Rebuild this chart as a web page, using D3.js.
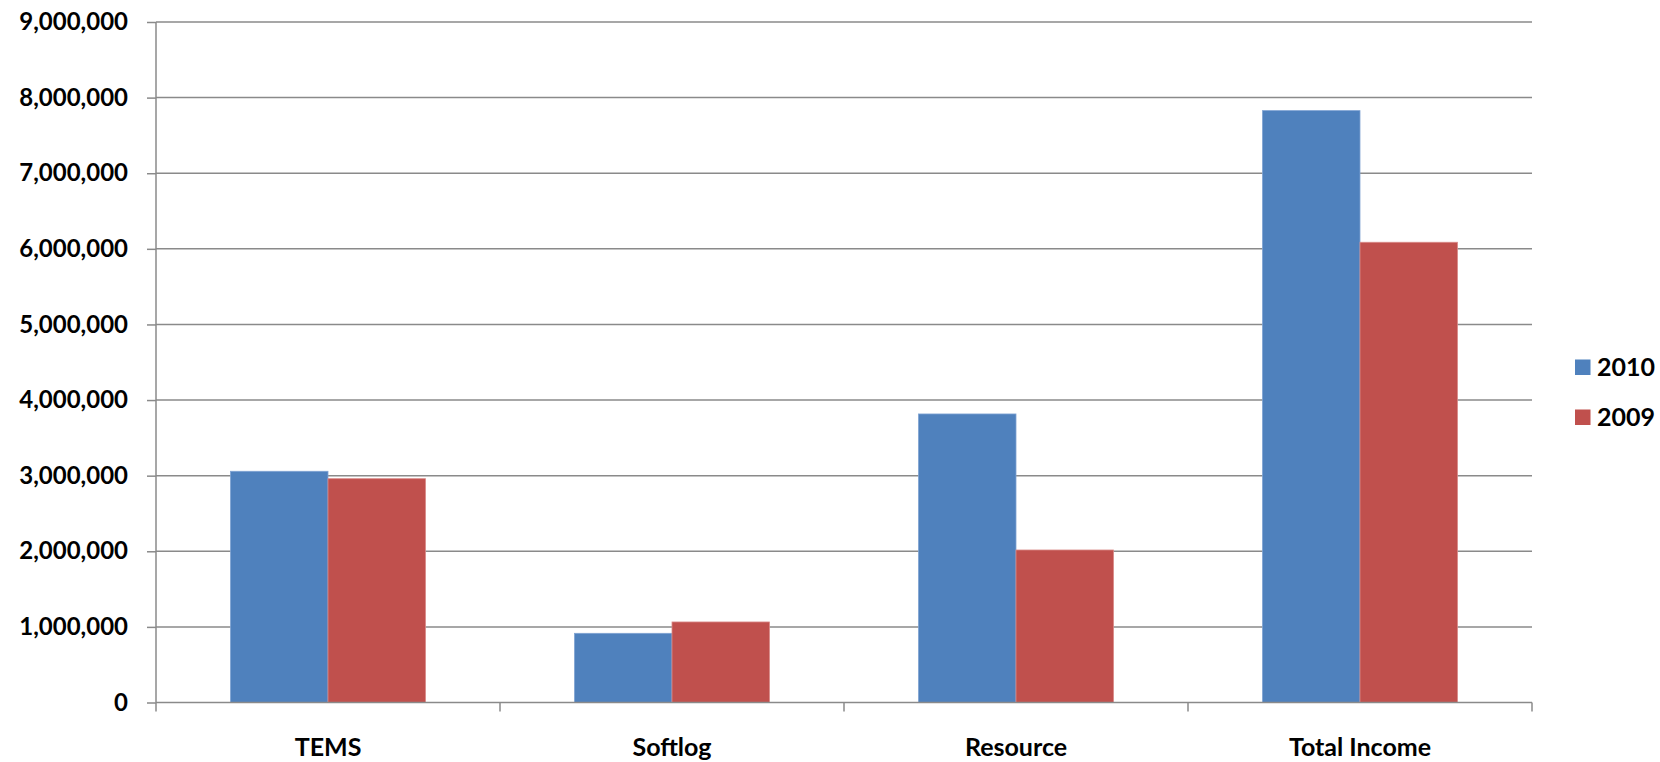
<!DOCTYPE html>
<html>
<head>
<meta charset="utf-8">
<script src="https://cdn.jsdelivr.net/npm/d3@7"></script>
<style>
  html, body { margin: 0; padding: 0; background: #fff; }
  svg { display: block; font-family: Lato, "Open Sans", sans-serif; font-weight: bold; }
</style>
</head>
<body>
<svg id="chart" width="1660" height="762"></svg>
<script>
const categories = ["TEMS", "Softlog", "Resource", "Total Income"];
const seriesNames = ["2010", "2009"];
const values2010 = [3058000, 915000, 3816000, 7828000];
const values2009 = [2960000, 1065000, 2017000, 6087000];
const yTicks = [0, 1000000, 2000000, 3000000, 4000000, 5000000, 6000000, 7000000, 8000000, 9000000];
const colors = ["#4F81BD", "#C0504D"];

const seriesValues = [values2010, values2009];
const svg = d3.select("#chart");
const plotLeft = 156, plotRight = 1532, plotTop = 22, plotBottom = 702.5;
const fontFam = "Lato, 'Open Sans', sans-serif";

const y = d3.scaleLinear().domain([0, 9000000]).range([plotBottom, plotTop]);
const x0 = d3.scaleBand().domain(categories).range([plotLeft, plotRight]).padding(0);
const x1 = d3.scaleBand().domain(seriesNames).range([0, x0.bandwidth()]).paddingInner(0).paddingOuter(0.764);

// gridlines
svg.append("g")
  .selectAll("line").data(yTicks.filter(d => d > 0)).join("line")
  .attr("x1", plotLeft).attr("x2", plotRight)
  .attr("y1", d => y(d)).attr("y2", d => y(d))
  .attr("stroke", "#8a8a8a").attr("stroke-width", 1.5);

// bars
const groups = svg.append("g").selectAll("g").data(categories).join("g")
  .attr("transform", d => `translate(${x0(d)},0)`);
groups.selectAll("rect").data((c, i) => seriesNames.map((s, j) => ({ s, v: seriesValues[j][i], j })))
  .join("rect")
  .attr("x", d => x1(d.s))
  .attr("y", d => y(d.v))
  .attr("width", x1.bandwidth())
  .attr("height", d => y(0) - y(d.v))
  .attr("fill", d => colors[d.j])
  .attr("stroke", d => d.j === 0 ? "#7fa3d3" : "#d98a88")
  .attr("stroke-width", 0.8);

// y axis
const yAxis = d3.axisLeft(y).tickValues(yTicks).tickFormat(d3.format(",")).tickSize(9).tickPadding(19);
const gy = svg.append("g").attr("transform", `translate(${plotLeft},0)`).call(yAxis);
gy.select(".domain").attr("stroke", "#8a8a8a").attr("stroke-width", 1.5).attr("d", `M0,${plotTop}V${plotBottom}`);
gy.selectAll(".tick line").attr("stroke", "#8a8a8a").attr("stroke-width", 1.5);
gy.selectAll(".tick text").attr("fill", "#000").attr("font-size", 24).attr("font-weight", "bold")
  .attr("font-family", fontFam);

// x axis
const xAxis = d3.axisBottom(x0).tickSize(0).tickPadding(36);
const gx = svg.append("g").attr("transform", `translate(0,${plotBottom})`).call(xAxis);
gx.select(".domain").attr("stroke", "#8a8a8a").attr("stroke-width", 1.5).attr("d", `M${plotLeft},0H${plotRight}`);
gx.selectAll(".tick text").attr("fill", "#000").attr("font-size", 25).attr("font-weight", "bold")
  .attr("font-family", fontFam);
// category boundary ticks
const bounds = categories.map(c => x0(c)).concat([plotRight]);
gx.append("g").selectAll("line").data(bounds).join("line")
  .attr("x1", d => d).attr("x2", d => d).attr("y1", 0).attr("y2", 9)
  .attr("stroke", "#8a8a8a").attr("stroke-width", 1.5);

// legend
const legend = svg.append("g").selectAll("g").data(seriesNames).join("g")
  .attr("transform", (d, i) => `translate(1575,${367 + i * 50})`);
legend.append("rect").attr("x", 0).attr("y", -7.5).attr("width", 15.5).attr("height", 15.5)
  .attr("fill", (d, i) => colors[i]);
legend.append("text").attr("x", 22).attr("y", 0).attr("dy", "0.36em")
  .attr("font-size", 25).attr("fill", "#000").attr("font-family", fontFam).text(d => d);
</script>
</body>
</html>
